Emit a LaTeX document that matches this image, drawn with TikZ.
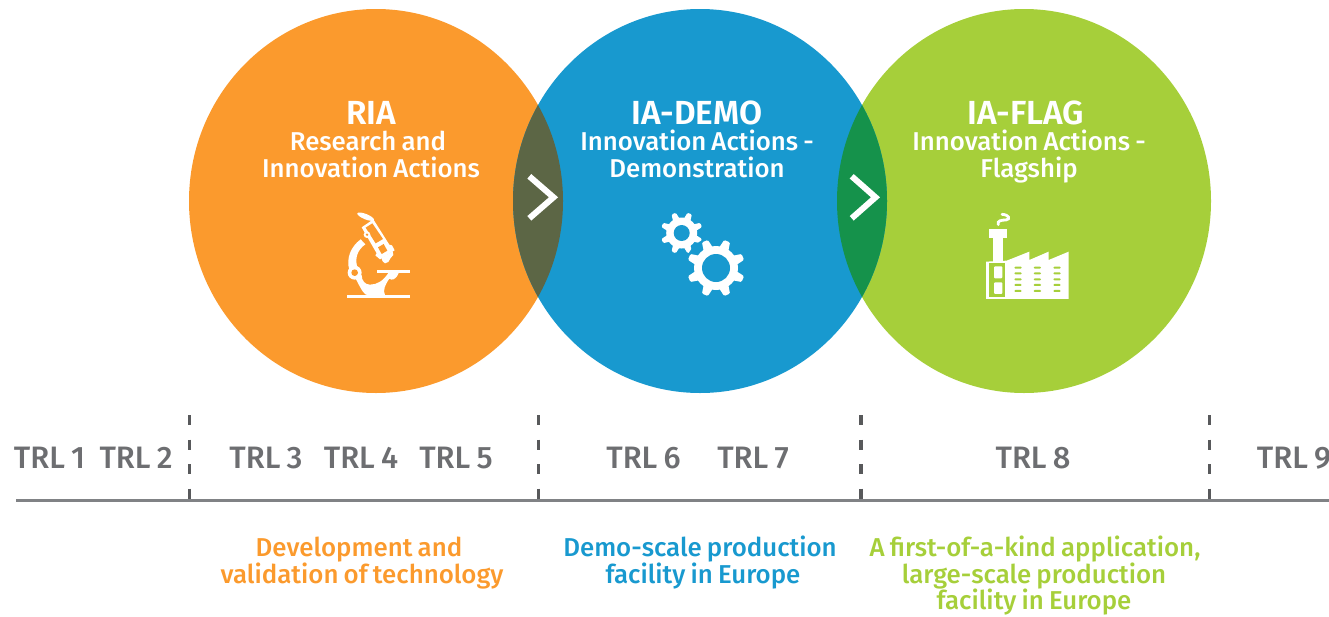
\documentclass[tikz,border=0pt]{standalone}
\usepackage{fontspec}
\setmainfont{Fira Sans}
\newfontfamily\fmed{Fira Sans Medium}
\newfontfamily\ftrl[WordSpace=0.8]{Fira Sans Medium}
\newfontfamily\fsemi{Fira Sans SemiBold}
\definecolor{cor}{HTML}{FB9A2D}
\definecolor{cbl}{HTML}{1899CF}
\definecolor{cgr}{HTML}{A6CF3A}
\definecolor{cov}{HTML}{5C6645}
\definecolor{cog}{HTML}{15924B}
\definecolor{cgy}{HTML}{6D6E71}
\definecolor{cax}{HTML}{808285}
\definecolor{cdk}{HTML}{58595B}
\tikzset{
 ttl/.style={text=white,font=\fontsize{33.4}{33}\fsemi,anchor=base,inner sep=0},
 sub/.style={text=white,font=\fontsize{25.8}{26}\fmed,anchor=base,inner sep=0},
 trl/.style={text=cgy,font=\fontsize{31}{31}\ftrl,anchor=base,inner sep=0},
 desc/.style={font=\fontsize{25.85}{26}\fmed,anchor=base,inner sep=0},
 tick/.style={draw=cdk,line width=3.4pt,dash pattern=on 10pt off 14.5pt},
 chev/.style={draw=white,line width=6pt,miter limit=10},
}
\newcommand{\gear}[6]{% x y outer body hole bg
 \fill[white] (#1,#2) circle (#4);
 \foreach \a in {0,45,...,315}{
  \fill[white,rounded corners=1.2pt,shift={(#1,#2)},rotate=\a+22.5] (#4-2,-#3*0.17) -- (#3,-#3*0.11) -- (#3,#3*0.11) -- (#4-2,#3*0.17) -- cycle;
 }
 \fill[#6] (#1,#2) circle (#5);
}
\begin{document}
\begin{tikzpicture}[x=1pt,y=-1pt]
\useasboundingbox (0,0) rectangle (1329,616);
\coordinate (co) at (376,201);
\coordinate (cb) at (700,201);
\coordinate (cg) at (1024,201);
\fill[cor] (co) ellipse [x radius=187,y radius=192];
\fill[cgr] (cg) ellipse [x radius=187,y radius=192];
\fill[cbl] (cb) ellipse [x radius=187,y radius=192];
\begin{scope}
 \clip (co) ellipse [x radius=187,y radius=192];
 \fill[cov] (cb) ellipse [x radius=187,y radius=192];
\end{scope}
\begin{scope}
 \clip (cg) ellipse [x radius=187,y radius=192];
 \fill[cog] (cb) ellipse [x radius=187,y radius=192];
\end{scope}
\coordinate (a1) at (529.3,176.3); \coordinate (a2) at (553.5,197.3); \coordinate (a3) at (529.3,218.3);
\coordinate (b1) at (851.7,176.3); \coordinate (b2) at (875.5,197.3); \coordinate (b3) at (851.7,218.3);
\draw[chev] (a1) -- (a2) -- (a3);
\draw[chev] (b1) -- (b2) -- (b3);
\node[ttl] (t1) at (371,124) {RIA};
\node[sub] (s1a) at (368,150) {Research and};
\node[sub] (s1b) at (371,177) {Innovation Actions};
\node[ttl] (t2) at (697,124) {IA-DEMO};
\node[sub] (s2a) at (697,150) {Innovation Actions -};
\node[sub] (s2b) at (697,177) {Demonstration};
\node[ttl] (t3) at (1026,124) {IA-FLAG};
\node[sub] (s3a) at (1029,150) {Innovation Actions -};
\node[sub] (s3b) at (1029,177) {Flagship};
% microscope
\begin{scope}[shift={(320,190)},x=0.3333pt,y=-0.3333pt]
 \fill[white] (82,315) rectangle (270,325);
 \fill[white] (172,240) rectangle (270,249);
 % foot and curved stand
 \fill[white] (108,268) .. controls (125,300) and (132,316) .. (145,316) -- (195,316) .. controls (188,300) and (195,285) .. (208,266) .. controls (215,272) and (228,270) .. (236,249) -- (205,249) .. controls (190,272) and (172,284) .. (150,284) .. controls (135,284) and (125,272) .. (125,255) -- cycle;
 % arm
 \fill[white] (122,148) .. controls (92,170) and (78,205) .. (88,240) -- (112,232) .. controls (104,205) and (112,180) .. (136,163) -- cycle;
 \fill[white] (104,248) circle (21);
 \fill[cor] (104,248) circle (10);
 % eyepiece
 \fill[white,rotate around={-22:(137,80)}] (137,80) ellipse (27 and 8);
 % tube
 \fill[white] (160,88) -- (125,112) -- (170,190) -- (166,196) -- (180,208) -- (224,181) -- (216,166) -- (208,164) -- cycle;
 \fill[cor] (157,100) -- (137,113) -- (167,160) -- (189,147) -- cycle;
 \fill[cor] (191,162) -- (174,172) -- (185,192) -- (202,182) -- cycle;
 \fill[white] (141,134) circle (10);
 \fill[cor] (141,134) circle (4);
 \fill[white] (184,204) -- (218,184) -- (220,195) -- (212,204) -- (205,216) -- (195,220) -- (188,214) -- cycle;
\end{scope}
% gears
\gear{681.7}{233}{21}{15.5}{8}{cbl}
\fill[cbl] (716,268) circle (31);
\gear{716}{268}{29}{22}{14}{cbl}
% factory
\begin{scope}[shift={(970,190)},x=0.3333pt,y=-0.3333pt]
 \draw[white,line width=2.8pt,line cap=round] (85,104) .. controls (80,92) and (95,90) .. (108,90) .. controls (122,88) and (118,74) .. (96,73);
 \fill[white] (58,117) rectangle (110,143);
 \fill[white] (68,143) rectangle (100,215);
 \fill[white] (48,215) -- (110,212) -- (178,185) -- (178,210) -- (236,185) -- (236,210) -- (296,185) -- (296,327) -- (48,327) -- cycle;
 \fill[cgr] (56,219) rectangle (105,320);
 \fill[white,rounded corners=1pt] (72,229) rectangle (97,265);
 \fill[white,rounded corners=1pt] (72,277) rectangle (97,312);
 \foreach \x in {133,191,250}
  \foreach \y in {233,250,268,285,303}
   \fill[cgr,rounded corners=1pt] (\x,\y-3) rectangle (\x+22,\y+3);
\end{scope}
% timeline
\coordinate (axl) at (16,500.5);
\coordinate (axr) at (1329,500.5);
\draw[cax,line width=3pt] (axl) -- (axr);
\foreach \n/\x in {d1/189.5,d2/538.5,d3/861,d4/1209.5}{
 \coordinate (\n t) at (\x,415);
 \coordinate (\n b) at (\x,499);
 \draw[tick] (\n t) -- (\n b);
}
\node[trl] (l1) at (49.5,468) {TRL 1};
\node[trl] (l2) at (136,468) {TRL 2};
\node[trl] (l3) at (266,468) {TRL 3};
\node[trl] (l4) at (361,468) {TRL 4};
\node[trl] (l5) at (456,468) {TRL 5};
\node[trl] (l6) at (643.5,468) {TRL 6};
\node[trl] (l7) at (753,468) {TRL 7};
\node[trl] (l8) at (1033,468) {TRL 8};
\node[trl] (l9) at (1294,468) {TRL 9};
\node[desc,text=cor] (x1a) at (359,556) {Development and};
\node[desc,text=cor] (x1b) at (362,583) {validation of technology};
\node[desc,text=cbl] (x2a) at (700,556) {Demo-scale production};
\node[desc,text=cbl] (x2b) at (703,583) {facility in Europe};
\node[desc,text=cgr] (x3a) at (1035,556) {A first-of-a-kind application,};
\node[desc,text=cgr] (x3b) at (1034,583) {large-scale production};
\node[desc,text=cgr] (x3c) at (1034,609) {facility in Europe};
\end{tikzpicture}
\end{document}
